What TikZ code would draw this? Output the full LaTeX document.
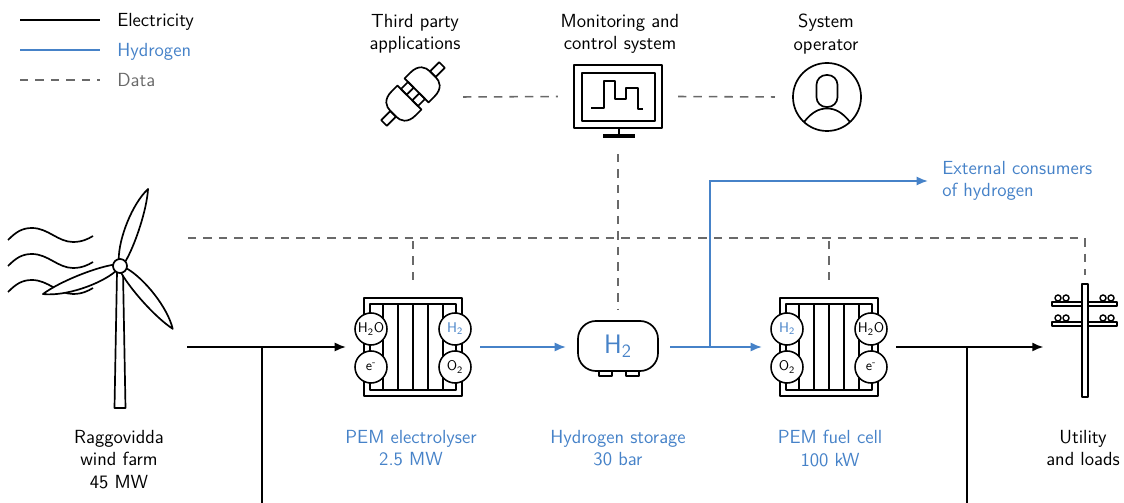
\documentclass[tikz,border=0pt]{standalone}
\usepackage{tikz}
\usetikzlibrary{arrows.meta}
\definecolor{hblue}{RGB}{70,130,200}
\definecolor{dgray}{RGB}{105,105,105}
\tikzset{
  plant/.style={
    x=0.025cm, y=-0.025cm,
    font={\fontsize{13.5}{16}\selectfont\sffamily},
    >={Latex[length=8pt,width=6.5pt]}
  },
  icon/.style={line width=1.2pt, line join=round},
  el/.style={line width=1.4pt},
  h2/.style={el, hblue},
  data/.style={line width=1.1pt, dgray, dash pattern=on 6pt off 5pt},
  gas/.style={circle, draw, fill=white, line width=1.1pt, inner sep=0pt,
    minimum size=0.8cm, font={\fontsize{10}{11}\selectfont\sffamily}},
  stack/.style={inner sep=0pt, minimum width=2.45cm, minimum height=2.45cm, outer sep=0.45cm},
  caption/.style={align=center, inner sep=0pt, anchor=north},
  legend/.style={inner sep=0pt, anchor=base west}
}
% cell stack of the electrolyser and the fuel cell
\newcommand\cellstack{%
  \draw[icon, fill=white] (-49,-49) rectangle (49,49);
  \draw[icon] (-43,-43) rectangle (43,43);
  \foreach \x in {-30,-15,0,15,30}
    \draw[icon] (\x,-43) -- (\x,43);
}

\begin{document}
\begin{tikzpicture}[plant]
\useasboundingbox (0,0) rectangle (1124,503);

% legend
\draw[el] (20,20) -- (100,20);
\node[legend] (leg-el) at (117,27) {Electricity};
\draw[h2] (20,50) -- (100,50);
\node[legend, text=hblue] (leg-h2) at (117,57) {Hydrogen};
\draw[data] (20,80) -- (100,80);
\node[legend, text=dgray] (leg-data) at (117,87) {Data};

% wind farm
\node[inner sep=0pt, minimum width=3.35cm] (farm) at (120,347) {};
\foreach \y in {0,26,52}
  \draw[icon] (8,240+\y) .. controls (16,232+\y) and (22,228+\y) .. (32,228+\y)
    .. controls (48,228+\y) and (58,242+\y) .. (73,242+\y)
    .. controls (82,242+\y) and (88,239+\y) .. (93,236+\y);
\draw[icon, fill=white] (117,272) -- (123,272) -- (125.5,408) -- (114.5,408) -- cycle;
\foreach \a in {70,200,310}
  \draw[icon, fill=white, rotate around={\a:(120,266)}]
    (126,262.5) .. controls (145,255.5) and (182,256) .. (202,266)
    .. controls (182,272) and (145,273) .. (126,269.5) -- cycle;
\draw[icon, fill=white] (120,266) circle (7);
\node[caption] (farm-lbl) at (119,430) {Raggovidda\\wind farm\\45 MW};

% electrolyser
\node[stack] (elec) at (413,347) {};
\begin{scope}[shift={(413,347)}]
  \cellstack
  \node[gas] (elec-h2o) at (-42,-18) {H\textsubscript{2}O};
  \node[gas] (elec-e) at (-42,20) {e\textsuperscript{-}};
  \node[gas, text=hblue] (elec-h2) at (42,-18) {H\textsubscript{2}};
  \node[gas] (elec-o2) at (42,20) {O\textsubscript{2}};
\end{scope}
\node[caption, text=hblue] (elec-lbl) at (411,430) {PEM electrolyser\\2.5 MW};

% storage
\node[draw, icon, fill=white, rounded corners=0.45cm, minimum width=2cm, minimum height=1.25cm,
  inner sep=0pt, outer sep=0.3cm, text=hblue, font={\fontsize{19}{20}\selectfont\sffamily}]
  (tank) at (618,346) {H\textsubscript{2}};
\draw[icon] (599,371) rectangle (612,376);
\draw[icon] (626,371) rectangle (639,376);
\node[caption, text=hblue] (tank-lbl) at (618,430) {Hydrogen storage\\30 bar};

% fuel cell
\node[stack] (fc) at (829,347) {};
\begin{scope}[shift={(829,347)}]
  \cellstack
  \node[gas, text=hblue] (fc-h2) at (-42,-18) {H\textsubscript{2}};
  \node[gas] (fc-o2) at (-42,20) {O\textsubscript{2}};
  \node[gas] (fc-h2o) at (42,-18) {H\textsubscript{2}O};
  \node[gas] (fc-e) at (42,20) {e\textsuperscript{-}};
\end{scope}
\node[caption, text=hblue] (fc-lbl) at (830,430) {PEM fuel cell\\100 kW};

% utility pole
\node[inner sep=0pt, minimum width=1.625cm, minimum height=2.825cm, outer sep=0.225cm] (util) at (1085,340.5) {};
\foreach \y in {302,322} {
  \draw[icon, fill=white] (1052,\y) rectangle (1117,\y+4);
  \foreach \x in {1058,1066,1103,1111}
    \draw[line width=1pt] (\x,\y-4) circle (3);
}
\draw[icon, fill=white] (1082,284) rectangle (1088,397);
\node[caption] (util-lbl) at (1083,430) {Utility\\and loads};

% external consumers
\node[anchor=west, align=left, inner sep=0pt, text=hblue] (ext) at (942,181) {External consumers\\of hydrogen};

% third party applications
\node[inner sep=0pt, minimum size=1.5cm, outer sep=0.5cm] (plug) at (413,97) {};
\begin{scope}[shift={(413,94)}, rotate=45]
  \foreach \s in {1,-1} {
    \draw[icon, xscale=\s] (5,-17) -- (13,-17) .. controls (25,-17) and (28,-10) .. (28,-4)
      -- (28,4) .. controls (28,10) and (25,17) .. (13,17) -- (5,17) -- cycle;
    \draw[icon, xscale=\s] (28,-4) rectangle (41,4);
  }
  \draw[icon] (-5,-12) rectangle (5,-4);
  \draw[icon] (-5,4) rectangle (5,12);
\end{scope}
\node[caption] (plug-lbl) at (415,14) {Third party\\applications};

% monitoring and control system
\node[draw, icon, inner sep=0pt, minimum width=2.2cm, minimum height=1.575cm, outer sep=0.4cm] (monitor) at (618,96.5) {};
\draw[icon] (582,73) rectangle (655,121);
\draw[icon] (591,108) -- (604,108) -- (604,81) -- (615,81) -- (615,99) -- (626,99)
  -- (626,88) -- (638,88) -- (638,109) -- (643,109);
\draw[icon] (619,128) -- (619,135);
\draw[line width=2.4pt] (603,136) -- (635,136);
\node[caption] (monitor-lbl) at (620,14) {Monitoring and\\control system};

% system operator
\node[draw, icon, circle, inner sep=0pt, minimum size=1.7cm, outer sep=0.45cm] (operator) at (827,97) {};
\draw[icon, rounded corners=7pt] (816.5,75) rectangle (837.5,107);
\draw[icon] (804,122) .. controls (812,112) and (819,108.5) .. (827,108.5)
  .. controls (835,108.5) and (842,112) .. (850,122);
\node[caption] (operator-lbl) at (826,14) {System\\operator};

% electricity
\coordinate (tap-w) at (262,347);
\coordinate (grid-w) at (262,503);
\coordinate (tap-e) at (967,347);
\coordinate (grid-e) at (967,503);
\draw[el, ->] (farm.east) -- (elec.west);
\draw[el] (tap-w) -- (grid-w);
\draw[el, ->] (fc.east) -- (fc.east -| util.west);
\draw[el] (tap-e) -- (grid-e);

% hydrogen
\coordinate (split) at (710,347);
\draw[h2, ->] (elec.east) -- (elec.east -| tank.west);
\draw[h2, ->] (tank.east |- fc.west) -- (fc.west);
\draw[h2, ->, shorten >=10pt] (split) |- (ext.west);

% data
\coordinate (bus) at (188,238);
\draw[data] (bus) -| (util.north);
\draw[data] (elec.north) -- (elec.north |- bus);
\draw[data] (fc.north) -- (fc.north |- bus);
\draw[data] (monitor.south) ++(0,10) -- (tank.north);
\draw[data] (plug.east) -- (monitor.west);
\draw[data] (monitor.east) -- (operator.west);
\end{tikzpicture}
\end{document}
